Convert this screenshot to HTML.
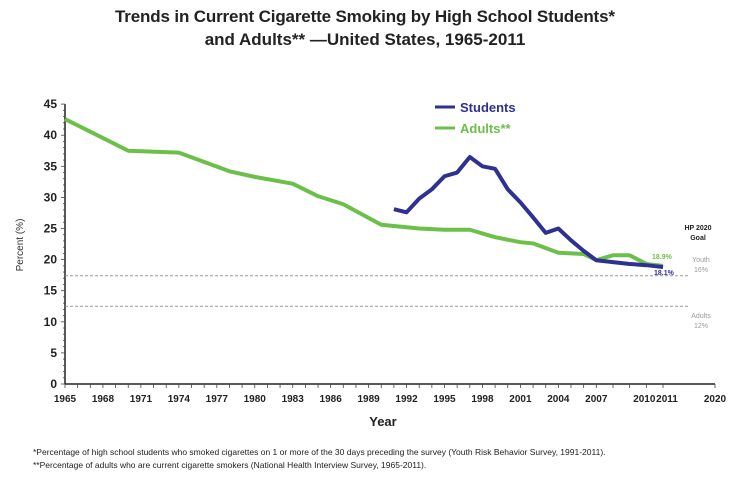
<!DOCTYPE html>
<html><head><meta charset="utf-8"><style>
body{margin:0;background:#fff;width:730px;height:479px;overflow:hidden;font-family:"Liberation Sans",sans-serif}
</style></head><body>
<svg width="730" height="479" xmlns="http://www.w3.org/2000/svg" font-family="Liberation Sans, sans-serif">
<text x="365" y="22" text-anchor="middle" font-size="17" font-weight="bold" fill="#222" textLength="500">Trends in Current Cigarette Smoking by High School Students*</text>
<text x="365" y="45" text-anchor="middle" font-size="17" font-weight="bold" fill="#222">and Adults** —United States, 1965-2011</text>
<g id="axes"></g>
<g id="marks"></g>
<text transform="translate(23,245) rotate(-90)" text-anchor="middle" font-size="10" fill="#333">Percent (%)</text>
<text x="383" y="426" text-anchor="middle" font-size="13" font-weight="bold" fill="#222">Year</text>
<g>
<line x1="435" y1="107" x2="455" y2="107" stroke="#2e3192" stroke-width="3"/>
<text x="460" y="112" font-size="13" font-weight="bold" fill="#2e3192">Students</text>
<line x1="435" y1="128" x2="455" y2="128" stroke="#6cc04a" stroke-width="3"/>
<text x="460" y="133" font-size="13" font-weight="bold" fill="#6cc04a">Adults**</text>
</g>
<text x="698" y="230" text-anchor="middle" font-size="7" font-weight="bold" fill="#222">HP 2020</text>
<text x="698" y="240" text-anchor="middle" font-size="7" font-weight="bold" fill="#222">Goal</text>
<text x="701" y="262" text-anchor="middle" font-size="7" fill="#999">Youth</text>
<text x="701" y="272" text-anchor="middle" font-size="7" fill="#999">16%</text>
<text x="701" y="318" text-anchor="middle" font-size="7" fill="#999">Adults</text>
<text x="701" y="328" text-anchor="middle" font-size="7" fill="#999">12%</text>
<text x="652" y="259" font-size="7" font-weight="bold" fill="#6cc04a">18.9%</text>
<text x="654" y="275" font-size="7" font-weight="bold" fill="#2e3192">18.1%</text>
<text x="33" y="455" font-size="8.5" fill="#222">*Percentage of high school students who smoked cigarettes on 1 or more of the 30 days preceding the survey (Youth Risk Behavior Survey, 1991-2011).</text>
<text x="33" y="468" font-size="8.5" fill="#222">**Percentage of adults who are current cigarette smokers (National Health Interview Survey, 1965-2011).</text>
</svg>
<script>
const yTicks=[0,5,10,15,20,25,30,35,40,45];
const xTickLabels=[1965,1968,1971,1974,1977,1980,1983,1986,1989,1992,1995,1998,2001,2004,2007,2010,2011];
const adultYears=[1965,1970,1974,1978,1980,1983,1985,1987,1990,1993,1995,1997,1999,2001,2002,2004,2006,2007,2008,2009,2010,2011];
const adultValues=[42.6,37.5,37.2,34.2,33.3,32.2,30.2,28.9,25.6,25.0,24.8,24.8,23.6,22.8,22.6,21.1,20.9,19.9,20.7,20.7,19.3,19.0];
const studentYears=[1991,1992,1993,1994,1995,1996,1997,1998,1999,2000,2001,2002,2003,2004,2005,2006,2007,2008,2009,2010,2011];
const studentValues=[28.1,27.6,29.8,31.3,33.4,34.0,36.5,35.0,34.6,31.3,29.2,26.8,24.3,25.0,23.1,21.4,19.9,19.6,19.3,19.1,18.8];
const goalValues=[17.4,12.5];
const NS='http://www.w3.org/2000/svg';
const x0=65,pxYear=12.65,yBase=384,pxUnit=6.22,xEnd=715,x2007=x0+42*12.65,x2011=663;
function x(yr){return yr<=2007?x0+(yr-1965)*pxYear:x2007+(yr-2007)*(x2011-x2007)/4;}
function y(v){return yBase-v*pxUnit;}
function mk(tag,attrs,parent){const e=document.createElementNS(NS,tag);for(const k in attrs)e.setAttribute(k,attrs[k]);parent.appendChild(e);return e;}
const axes=document.getElementById('axes'),marks=document.getElementById('marks');
let e=mk('line',{x1:x0,y1:y(45),x2:x0,y2:yBase,stroke:'#222','stroke-width':1.5},axes);


e=mk('line',{x1:x0,y1:yBase,x2:xEnd,y2:yBase,stroke:'#222','stroke-width':1.5},axes);


for(let v=0;v<=45;v++){mk('line',{x1:x0-(v%5?2:4),y1:y(v),x2:x0,y2:y(v),stroke:'#444','stroke-width':0.8},axes);}
yTicks.forEach(v=>{const t=mk('text',{x:x0-8,y:y(v)+4,'text-anchor':'end','font-size':12,'font-weight':'bold',fill:'#222'},axes);t.textContent=v;

});
for(let yr=1965;yr<=2011;yr++){mk('line',{x1:x(yr),y1:yBase,x2:x(yr),y2:yBase+4,stroke:'#444','stroke-width':0.8},axes);}
mk('line',{x1:xEnd,y1:yBase,x2:xEnd,y2:yBase+4,stroke:'#444','stroke-width':0.8},axes);
xTickLabels.forEach(yr=>{const t=mk('text',{x:x(yr)+(yr===2010?-2:yr===2011?4:0),y:402,'text-anchor':'middle','font-size':10,'font-weight':'bold',fill:'#222'},axes);t.textContent=yr;

});
let t2=mk('text',{x:xEnd,y:402,'text-anchor':'middle','font-size':10,'font-weight':'bold',fill:'#222'},axes);t2.textContent='2020';


goalValues.forEach(v=>{const l=mk('line',{x1:x0,y1:y(v),x2:688,y2:y(v),stroke:'#999','stroke-width':1,'stroke-dasharray':'3,2'},marks);

});
function poly(xs,vs,color,name){const p=mk('polyline',{points:xs.map((yr,i)=>x(yr)+','+y(vs[i])).join(' '),fill:'none',stroke:color,'stroke-width':4,'stroke-linejoin':'round'},marks);

}
poly(adultYears,adultValues,'#6cc04a','adults-line');
poly(studentYears,studentValues,'#2e3192','students-line');
</script>
</body></html>
